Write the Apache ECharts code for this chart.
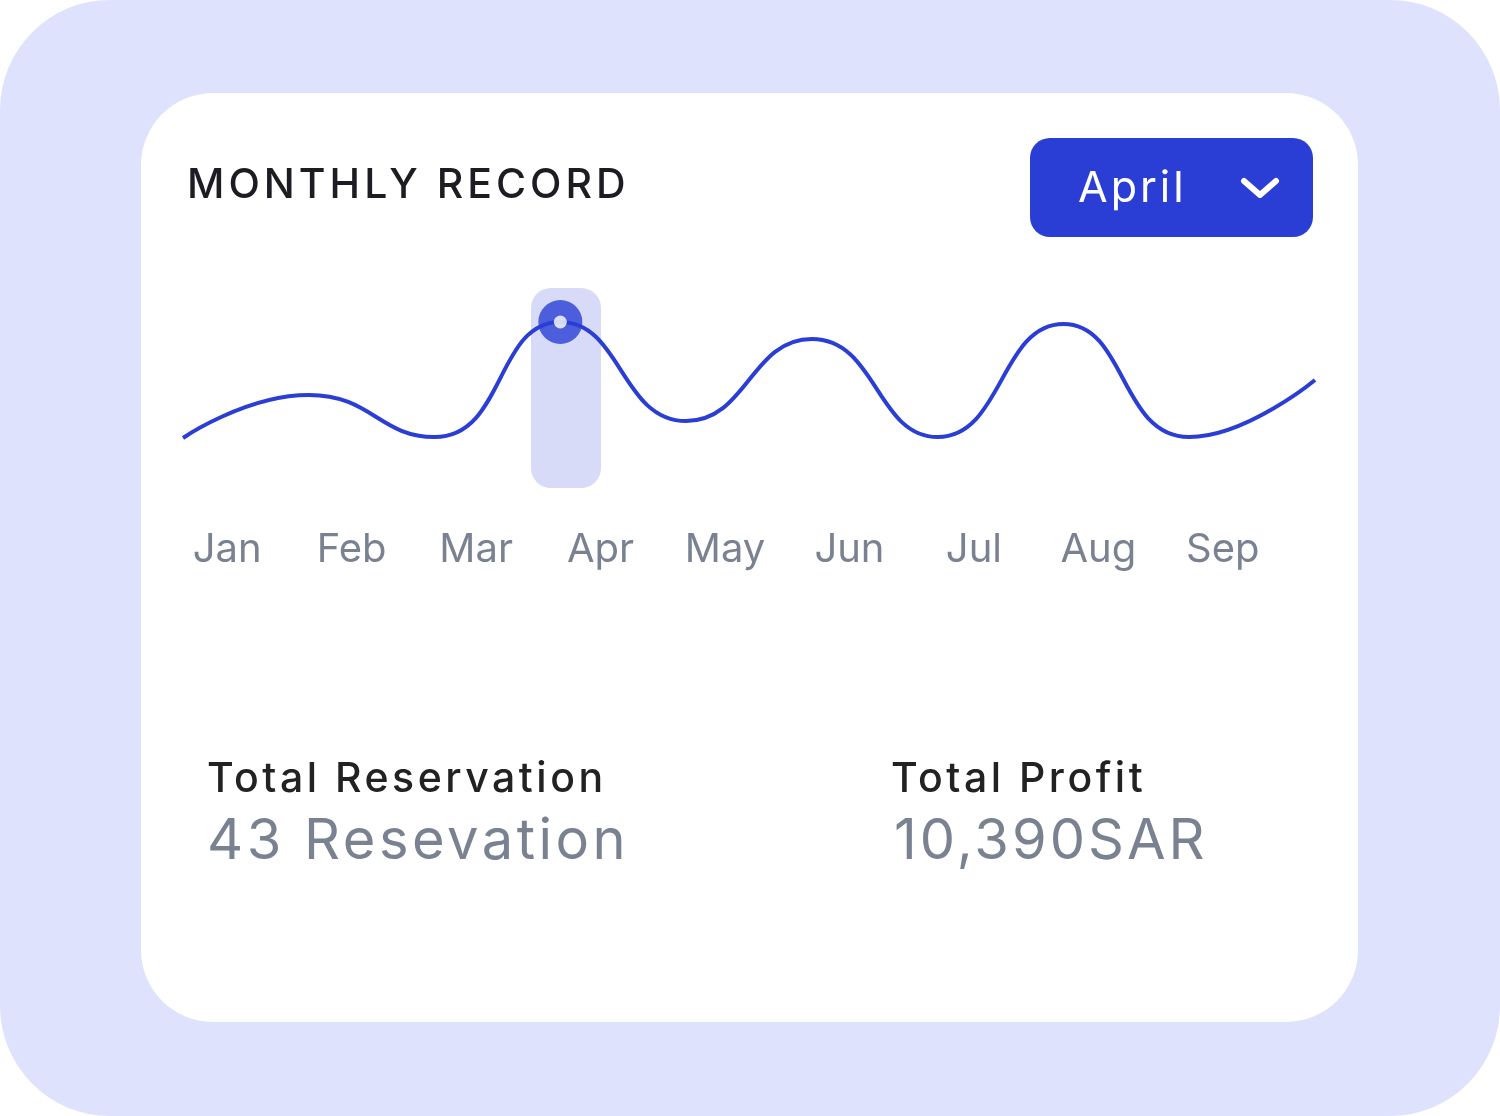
<!DOCTYPE html>
<html><head><meta charset="utf-8">
<script src="https://cdn.jsdelivr.net/npm/echarts@6/dist/echarts.min.js"></script>
<style>
html,body{margin:0;padding:0;background:#fff;}
#bg{position:absolute;left:0;top:0;width:1500px;height:1116px;background:#dfe2fc;border-radius:110px;}
#card{position:absolute;left:141px;top:93px;width:1217px;height:929px;background:#fff;border-radius:72px;}
#chart{position:absolute;left:0;top:0;width:1500px;height:1116px;}
.t{position:absolute;font-family:Inter,"Noto Sans",sans-serif;white-space:nowrap;}
#btn{position:absolute;left:1030px;top:138px;width:283px;height:99px;background:#2a3ed6;border-radius:20px;}
</style></head><body>
<div id="bg"></div><div id="card"></div>
<div id="btn"></div>
<div id="chart"></div>
<div class="t" style="left:187px;top:158px;font-size:41px;letter-spacing:4px;color:#1c1c22;font-weight:500">MONTHLY RECORD</div>
<div class="t" style="left:1078px;top:160px;font-size:43px;letter-spacing:3px;color:#fff">April</div>
<svg style="position:absolute;left:1240px;top:176px" width="40" height="24"><polyline points="4,5 20,19 36,5" fill="none" stroke="#fff" stroke-width="6" stroke-linecap="round" stroke-linejoin="round"/></svg>
<div class="t" style="left:207px;top:752px;font-size:41px;letter-spacing:3.5px;color:#222;font-weight:500">Total Reservation</div>
<div class="t" style="left:207px;top:805px;font-size:56px;letter-spacing:3.5px;color:#7a8291">43 Resevation</div>
<div class="t" style="left:891px;top:752px;font-size:41px;letter-spacing:3.5px;color:#222;font-weight:500">Total Profit</div>
<div class="t" style="left:894px;top:805px;font-size:56px;letter-spacing:3px;color:#7a8291">10,390SAR</div>
<script>
const months = ['Jan','Feb','Mar','Apr','May','Jun','Jul','Aug','Sep'];
const pointIdx = ['p0','p1','p2','p3','p4','p5','p6','p7','p8','p9'];
const values = [6, 27.5, 6.5, 64, 14.5, 55.5, 6.5, 63, 6.5, 35];
const selected = 3;
const chart = echarts.init(document.getElementById('chart'), null, {renderer:'canvas'});
chart.setOption({
  animation:false,
  graphic:[{type:'rect',shape:{x:531,y:288,width:70,height:200,r:20},style:{fill:'#d7dbf8'},z:0}],
  grid:[{left:183,right:185,top:300,height:150},{left:165,width:1120,top:450,height:80}],
  xAxis:[
    {type:'category',data:pointIdx,boundaryGap:false,gridIndex:0,show:false},
    {type:'category',data:months,gridIndex:1,position:'bottom',axisLine:{show:false},axisTick:{show:false},
     axisLabel:{color:'#7a8291',fontSize:40,fontFamily:'Inter, Noto Sans, sans-serif',margin:0}}
  ],
  yAxis:[{type:'value',min:0,max:75,gridIndex:0,show:false},{type:'value',gridIndex:1,show:false}],
  series:[
    {type:'line',data:values,smooth:0.5,showSymbol:false,lineStyle:{color:'#2a3ed6',width:4},z:3},
    {type:'scatter',data:[[selected,values[selected]]],symbolSize:44,itemStyle:{color:'#2a3ed6'},z:4},
    {type:'scatter',data:[[selected,values[selected]]],symbolSize:13,itemStyle:{color:'#fff'},z:5}
  ]
});
</script>
</body></html>
